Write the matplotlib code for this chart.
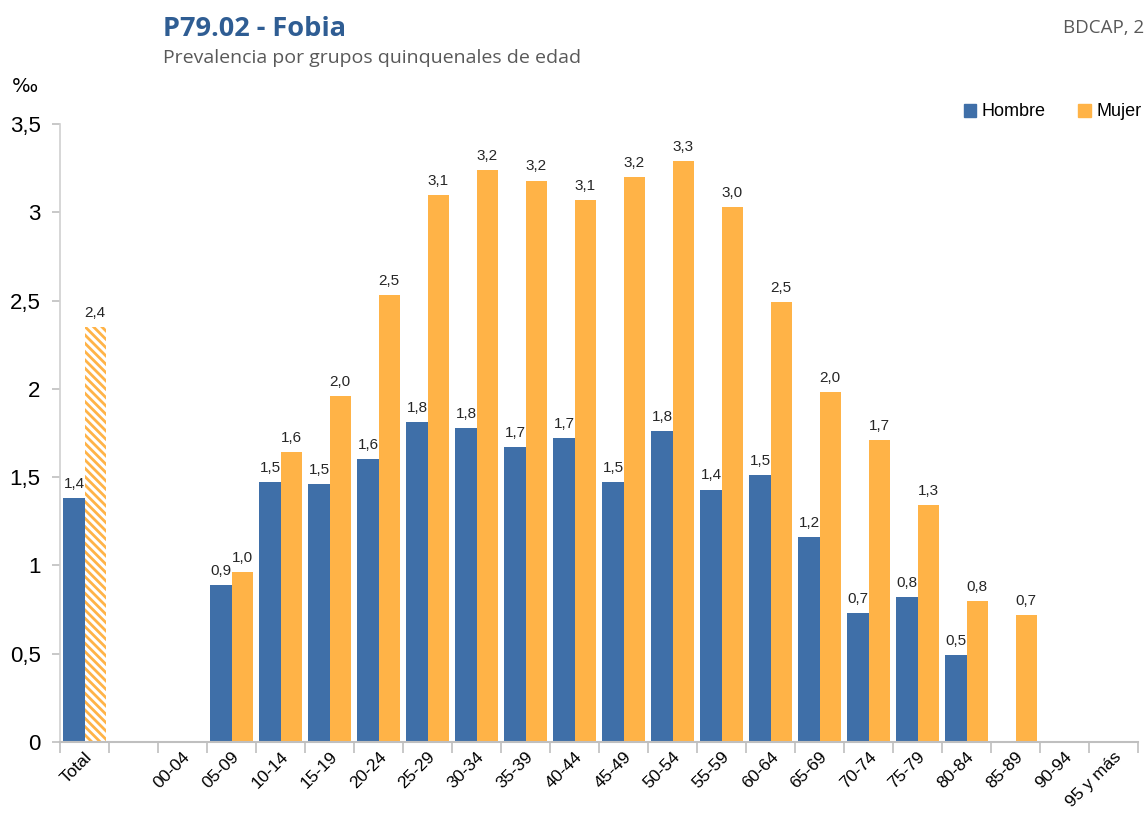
import matplotlib.pyplot as plt
import numpy as np

categories = ["Total", "", "00-04", "05-09", "10-14", "15-19", "20-24", "25-29",
              "30-34", "35-39", "40-44", "45-49", "50-54", "55-59", "60-64",
              "65-69", "70-74", "75-79", "80-84", "85-89", "90-94", "95 y más"]
hombre = [1.38, None, None, 0.89, 1.47, 1.46, 1.60, 1.81, 1.78, 1.67, 1.72,
          1.47, 1.76, 1.43, 1.51, 1.16, 0.73, 0.82, 0.49, None, None, None]
mujer = [2.35, None, None, 0.96, 1.64, 1.96, 2.53, 3.10, 3.24, 3.18, 3.07,
         3.20, 3.29, 3.03, 2.49, 1.98, 1.71, 1.34, 0.80, 0.72, None, None]
yticks = [0, 0.5, 1, 1.5, 2, 2.5, 3, 3.5]

FONT = "Liberation Sans"
BLUE = "#3F6FA8"
ORANGE = "#FFB347"

plt.rcParams["hatch.linewidth"] = 2.0

fig = plt.figure(figsize=(11.44, 8.17), dpi=100)
ax = fig.add_axes([60 / 1144, 75 / 817, 1078 / 1144, 618 / 817])

w = 0.43
x = np.arange(len(categories))


def fmt(v):
    return f"{v:.1f}".replace(".", ",")


for i in x:
    h = hombre[i]
    m = mujer[i]
    if h is not None:
        ax.bar(i - w / 2, h, width=w, color=BLUE, linewidth=0)
        ax.text(i - w / 2, h + 0.04, fmt(h), ha="center", va="bottom",
                fontsize=11, family=FONT, color="#262626")
    if m is not None:
        if i == 0:
            # total de mujeres con rayado
            ax.bar(i + w / 2, m, width=w, color="white", edgecolor=ORANGE,
                   hatch="\\\\\\\\", linewidth=0)
        else:
            ax.bar(i + w / 2, m, width=w, color=ORANGE, linewidth=0)
        ax.text(i + w / 2, m + 0.04, fmt(m), ha="center", va="bottom",
                fontsize=11, family=FONT, color="#262626")

ax.set_xlim(-0.5, len(categories) - 0.5)
ax.set_ylim(0, 3.5)
ax.set_yticks(yticks)
ax.set_yticklabels([("%g" % t).replace(".", ",") for t in yticks],
                   family=FONT, fontsize=16)
ax.set_xticks(x)
ax.set_xticklabels(categories, rotation=45, ha="right", rotation_mode="anchor",
                   family=FONT, fontsize=12.5)
ax.set_xticks(np.arange(len(categories) + 1) - 0.5, minor=True)
ax.tick_params(axis="x", which="major", length=0, pad=5)
ax.tick_params(axis="x", which="minor", length=8, color="#BFBFBF", width=1.2)
ax.tick_params(axis="y", length=6, color="#BFBFBF", width=1.2, pad=8)

for s in ["top", "right"]:
    ax.spines[s].set_visible(False)
ax.spines["left"].set_color("#D0D0D0")
ax.spines["bottom"].set_color("#BFBFBF")
ax.spines["left"].set_linewidth(1.2)
ax.spines["bottom"].set_linewidth(1.5)

fig.text(163 / 1144, 1 - 29 / 817, "P79.02 - Fobia", fontsize=19.5, fontweight="bold",
         family="Open Sans", color="#2F5D93", va="center")
fig.text(163 / 1144, 1 - 58 / 817, "Prevalencia por grupos quinquenales de edad",
         fontsize=14, family="Open Sans", color="#595959", va="center")
fig.text(1063 / 1144, 1 - 28 / 817, "BDCAP, 2", fontsize=13.5, family="Open Sans",
         color="#595959", va="center")
fig.text(12 / 1144, 1 - 86 / 817, "‰", fontsize=14, family="DejaVu Sans", va="center")

handles = [plt.Rectangle((0, 0), 1, 1, color=BLUE), plt.Rectangle((0, 0), 1, 1, color=ORANGE)]
fig.legend(handles, ["Hombre", "Mujer"], loc="center right", bbox_to_anchor=(1.012, 1 - 112 / 817),
           ncol=2, frameon=False, prop={"family": FONT, "size": 13},
           handlelength=0.7, handleheight=0.7, handletextpad=0.3, columnspacing=1.8)

fig.savefig("out.png", dpi=100)
